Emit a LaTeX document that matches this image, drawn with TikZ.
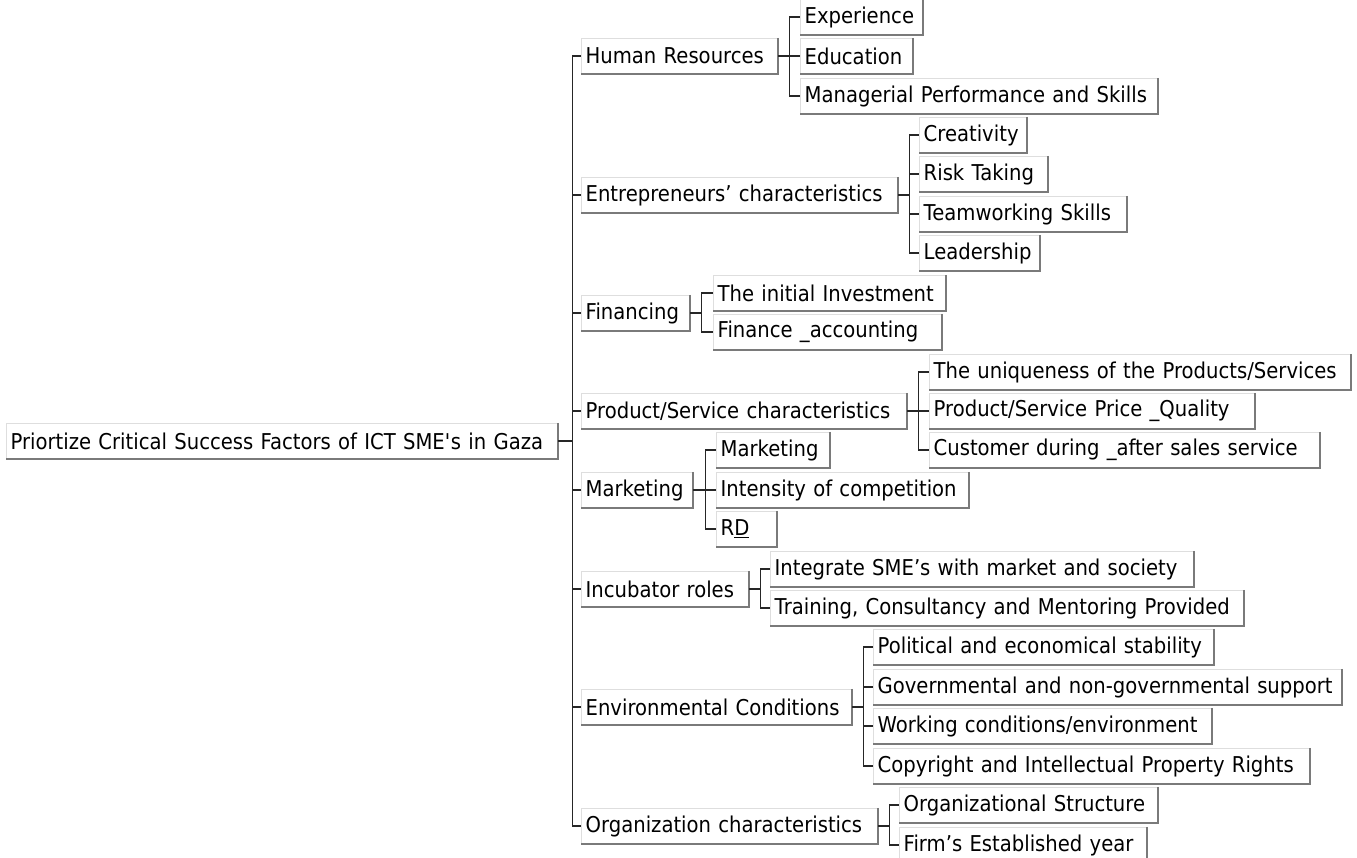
\documentclass[tikz,border=0pt]{standalone}
\usepackage{fontspec}
\setmainfont[FakeStretch=0.9]{DejaVu Sans}
\usepackage{tikz}
\usetikzlibrary{calc}

\begin{document}
\begin{tikzpicture}[x=1pt, y=-1pt, line width=1.3pt,
        every node/.style = {shape=rectangle, draw=black!13, fill=white, anchor=west,
            minimum height=35pt, inner xsep=4pt, inner ysep=0pt, align=left,
            font=\fontsize{21.8}{24}\selectfont},
        edge/.style = {draw=black!85, line width=1.3pt},
        shade edge/.style = {draw=black!52, line width=1.7pt}]
        \useasboundingbox (0,0) rectangle (1357,858);
        % root and main factors
        \node [text width=543pt] (root) at (6,441) {Priortize Critical Success Factors of ICT SME\textquotesingle s in Gaza};
        \node [text width=188pt] (hr)   at (581,56)  {Human Resources};
        \node [text width=308pt] (ent)  at (581,195) {Entrepreneurs' characteristics};
        \node [text width=100pt] (fin)  at (581,313) {Financing};
        \node [text width=317pt] (prod) at (581,411) {Product/Service characteristics};
        \node [text width=103pt] (mkt)  at (581,490) {Marketing};
        \node [text width=159pt] (inc)  at (581,589) {Incubator roles};
        \node [text width=262pt] (env)  at (581,707) {Environmental Conditions};
        \node [text width=288pt] (org)  at (581,826) {Organization characteristics};
        % sub factors
        \node [text width=114pt] (exp)   at (800,17)  {Experience};
        \node [text width=104pt] (edu)   at (800,56)  {Education};
        \node [text width=349pt] (man)   at (800,96)  {\mbox{Managerial Performance and Skills}};
        \node [text width=99pt]  (cre)   at (919,135) {Creativity};
        \node [text width=120pt] (risk)  at (919,174) {Risk Taking};
        \node [text width=199pt] (team)  at (919,214) {Teamworking Skills};
        \node [text width=112pt] (lead)  at (919,253) {Leadership};
        \node [text width=224pt] (inv)   at (713,293) {The initial Investment};
        \node [text width=220pt] (acc)   at (713,332) {Finance \_accounting};
        \node [text width=413pt] (uniq)  at (929,372) {The uniqueness of the Products/Services};
        \node [text width=317pt] (price) at (929,411) {Product/Service Price \_Quality};
        \node [text width=382pt] (cust)  at (929,450) {Customer during \_after sales service};
        \node [text width=105pt] (mkl)   at (716,450) {Marketing};
        \node [text width=244pt] (comp)  at (716,490) {Intensity of competition};
        \node [text width=52pt]  (rd)    at (716,529) {R\underline{D}};
        \node [text width=415pt] (integ) at (770,569) {Integrate SME's with market and society};
        \node [text width=465pt] (train) at (770,608) {Training, Consultancy and Mentoring Provided};
        \node [text width=332pt] (pol)   at (873,647) {Political and economical stability};
        \node [text width=460pt] (gov)   at (873,687) {\mbox{Governmental and non-governmental support}};
        \node [text width=330pt] (work)  at (873,726) {Working conditions/environment};
        \node [text width=428pt] (copy)  at (873,766) {Copyright and Intellectual Property Rights};
        \node [text width=250pt] (ostr)  at (899,805) {Organizational Structure};
        \node [text width=239pt] (firm)  at (899,845) {Firm's Established year};
        % darker right and bottom edges
        \foreach \n in {root,hr,ent,fin,prod,mkt,inc,env,org,exp,edu,man,cre,risk,team,lead,
                inv,acc,uniq,price,cust,mkl,comp,rd,integ,train,pol,gov,work,copy,ostr,firm}
            \draw [shade edge] (\n.north east) -- (\n.south east) -- (\n.south west);
        % connectors
        \foreach \c in {hr,ent,fin,prod,mkt,inc,env,org}
            \draw [edge] (root.east) -- ++(14,0) |- (\c.west);
        \foreach \c in {exp,edu,man}
            \draw [edge] (hr.east) -- ++(11.5,0) |- (\c.west);
        \foreach \c in {cre,risk,team,lead}
            \draw [edge] (ent.east) -- ++(11,0) |- (\c.west);
        \foreach \c in {inv,acc}
            \draw [edge] (fin.east) -- ++(11.5,0) |- (\c.west);
        \foreach \c in {uniq,price,cust}
            \draw [edge] (prod.east) -- ++(11.5,0) |- (\c.west);
        \foreach \c in {mkl,comp,rd}
            \draw [edge] (mkt.east) -- ++(12,0) |- (\c.west);
        \foreach \c in {integ,train}
            \draw [edge] (inc.east) -- ++(11,0) |- (\c.west);
        \foreach \c in {pol,gov,work,copy}
            \draw [edge] (env.east) -- ++(11,0) |- (\c.west);
        \foreach \c in {ostr,firm}
            \draw [edge] (org.east) -- ++(11,0) |- (\c.west);
\end{tikzpicture}
\end{document}
